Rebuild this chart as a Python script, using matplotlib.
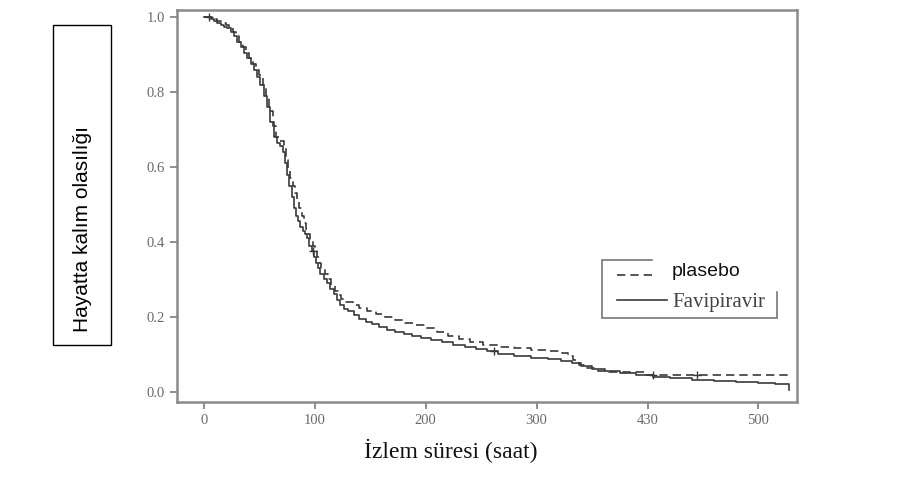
import matplotlib
matplotlib.use("Agg")
import matplotlib.pyplot as plt
from matplotlib.patches import Rectangle

# ---- data: (time in hours, survival probability) ----
fav_points = [
    (0, 1.0), (3, 1.0), (6, 0.995), (9, 0.99), (12, 0.985), (15, 0.98), (18, 0.975),
    (21, 0.97), (24, 0.96), (27, 0.95), (30, 0.935), (33, 0.92), (36, 0.905),
    (39, 0.89), (42, 0.875), (45, 0.86), (48, 0.84), (51, 0.82), (54, 0.79),
    (57, 0.76), (60, 0.72), (63, 0.68), (66, 0.665), (69, 0.655), (71, 0.64),
    (73, 0.61), (75, 0.58), (77, 0.55), (79, 0.52), (81, 0.49), (83, 0.47),
    (85, 0.455), (87, 0.44), (89, 0.43), (91, 0.42), (93, 0.41), (95, 0.39),
    (97, 0.375), (99, 0.36), (101, 0.345), (103, 0.33), (105, 0.315), (108, 0.30),
    (111, 0.29), (114, 0.275), (117, 0.26), (120, 0.245), (123, 0.232), (126, 0.222),
    (130, 0.215), (135, 0.205), (140, 0.195), (146, 0.187), (152, 0.18), (158, 0.173),
    (165, 0.166), (172, 0.16), (180, 0.154), (188, 0.148), (196, 0.143), (205, 0.138),
    (215, 0.132), (225, 0.126), (235, 0.12), (245, 0.114), (255, 0.108), (265, 0.10),
    (280, 0.095), (295, 0.09), (310, 0.087), (322, 0.083), (332, 0.077), (340, 0.068),
    (350, 0.06), (362, 0.055), (375, 0.05), (390, 0.045), (405, 0.04), (420, 0.036),
    (440, 0.032), (460, 0.029), (480, 0.026), (500, 0.024), (515, 0.022), (528, 0.005),
]
pla_points = [
    (0, 1.0), (4, 1.0), (8, 0.995), (12, 0.99), (16, 0.985), (20, 0.98), (23, 0.97),
    (26, 0.96), (29, 0.95), (32, 0.935), (35, 0.92), (38, 0.905), (41, 0.89),
    (44, 0.875), (47, 0.86), (50, 0.845), (53, 0.82), (56, 0.79), (59, 0.75),
    (62, 0.71), (65, 0.68), (68, 0.67), (72, 0.65), (74, 0.62), (76, 0.595),
    (78, 0.57), (80, 0.55), (82, 0.53), (84, 0.51), (86, 0.49), (88, 0.47),
    (90, 0.45), (92, 0.435), (94, 0.42), (96, 0.405), (98, 0.39), (100, 0.375),
    (102, 0.36), (104, 0.345), (106, 0.33), (109, 0.315), (112, 0.30), (115, 0.285),
    (118, 0.27), (121, 0.258), (124, 0.248), (128, 0.24), (134, 0.232), (140, 0.224),
    (147, 0.215), (155, 0.207), (163, 0.2), (172, 0.192), (181, 0.185), (190, 0.178),
    (200, 0.17), (210, 0.16), (220, 0.15), (230, 0.14), (240, 0.132), (252, 0.125),
    (265, 0.12), (280, 0.116), (295, 0.113), (310, 0.11), (322, 0.104), (328, 0.095),
    (333, 0.085), (338, 0.072), (345, 0.064), (355, 0.057), (365, 0.052), (397, 0.046),
    (527, 0.040),
]
fav_cens = [(5, 1.0), (98, 0.375), (262, 0.108)]
pla_cens = [(405, 0.046), (445, 0.046)]

xticks = [0, 100, 200, 300, 400, 500]
xticklabels = ["0", "100", "200", "300", "430", "500"]
yticks = [0.0, 0.2, 0.4, 0.6, 0.8, 1.0]
yticklabels = ["0.0", "0.2", "0.4", "0.6", "0.8", "1.0"]

series_names = ["plasebo", "Favipiravir"]
xlabel = "İzlem süresi (saat)"
ylabel = "Hayatta kalım olasılığı"

fav_t = [p[0] for p in fav_points]
fav_s = [p[1] for p in fav_points]
pla_t = [p[0] for p in pla_points]
pla_s = [p[1] for p in pla_points]

# ---- figure ----
fig = plt.figure(figsize=(9.07, 4.78), dpi=100)
ax = fig.add_axes([0.195, 0.159, 0.684, 0.820])

line_col = "#3a3a3a"
dash = (0, (5, 3))
ax.plot(pla_t, pla_s, drawstyle="steps-post", color=line_col, lw=1.2, linestyle=dash)
ax.plot(fav_t, fav_s, drawstyle="steps-post", color=line_col, lw=1.2)
ax.plot([c[0] for c in fav_cens], [c[1] for c in fav_cens], "+", color=line_col,
        ms=6, mew=1)
ax.plot([c[0] for c in pla_cens], [c[1] for c in pla_cens], "+", color=line_col,
        ms=6, mew=1)

ax.set_xlim(-24.4, 535)
ax.set_ylim(-0.027, 1.019)
ax.set_xticks(xticks)
ax.set_xticklabels(xticklabels)
ax.set_yticks(yticks)
ax.set_yticklabels(yticklabels)

spine_col = "#8a8a8a"
for s in ax.spines.values():
    s.set_color(spine_col)
    s.set_linewidth(1.8)
ax.tick_params(axis="both", colors="#7a7a7a", labelcolor="#6a6a6a", length=5,
               width=1.2, labelsize=10.5)
for lab in ax.get_xticklabels() + ax.get_yticklabels():
    lab.set_fontfamily("Liberation Serif")

ax.set_xlabel(xlabel, fontfamily="Liberation Serif", fontsize=17, color="#111111")
ax.xaxis.set_label_coords(0.442, -0.095)

# legend (partial frame as in the reference), drawn in axes coordinates
frame_col = "#777777"
L, M, R = 0.685, 0.766, 0.968
B, T, RT = 0.214, 0.362, 0.281
ax.plot([M, L, L, R, R], [T, T, B, B, RT], transform=ax.transAxes,
        color=frame_col, lw=1.2, solid_joinstyle="miter")
ax.plot([0.710, 0.768], [0.324, 0.324], transform=ax.transAxes, color=line_col,
        lw=1.2, linestyle=dash)
ax.plot([0.710, 0.790], [0.260, 0.260], transform=ax.transAxes, color=line_col,
        lw=1.2)
ax.text(0.797, 0.332, series_names[0], transform=ax.transAxes, fontsize=14,
        fontfamily="Liberation Sans", va="center", ha="left", color="#111111")
ax.text(0.799, 0.253, series_names[1], transform=ax.transAxes, fontsize=15,
        fontfamily="Liberation Serif", va="center", ha="left", color="#444444")

# y label in a box
fig.patches.append(Rectangle((53 / 907, 1 - 345 / 478), 58 / 907, 320 / 478,
                             transform=fig.transFigure, fill=False,
                             edgecolor="black", lw=1.0))
fig.text(82 / 907, 1 - 229 / 478, ylabel, rotation=90, ha="center", va="center",
         fontfamily="Liberation Sans", fontsize=15, color="black")

fig.savefig("out.png", dpi=100)
